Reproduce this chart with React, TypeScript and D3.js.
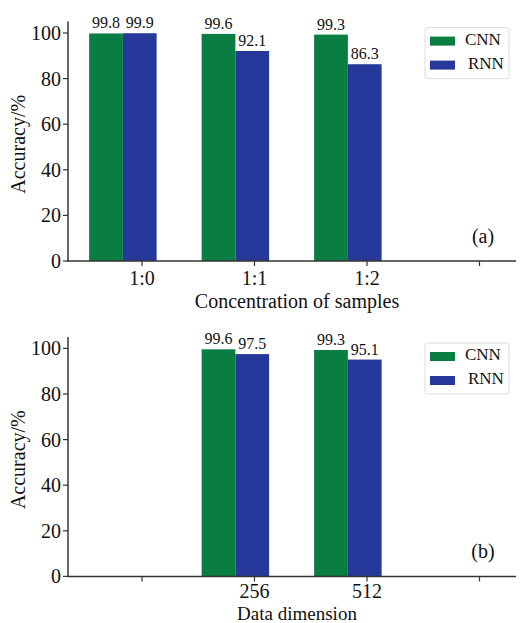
import React, { useEffect } from 'react';
import * as d3 from 'd3';

// panel (a)
const concLabels = ['1:0', '1:1', '1:2', ''];
const concCNN = [99.8, 99.6, 99.3];
const concRNN = [99.9, 92.1, 86.3];

// panel (b)
const dimLabels = ['', '256', '512', ''];
const dimCNN = [null, 99.6, 99.3];
const dimRNN = [null, 97.5, 95.1];

const yTicks = [0, 20, 40, 60, 80, 100];
const seriesNames = ['CNN', 'RNN'];
const colors = ['#0a7d43', '#26399a'];

const W = 530;
const H = 623;
const FONT = "'Liberation Serif', 'Times New Roman', Times, serif";

const x = d3.scaleLinear().domain([0, 3]).range([142, 479.5]);
const barW = x(0.3) - x(0);
const offsets = [-0.32, -0.02];

type PanelProps = {
  top: number;
  labels: string[];
  cnn: (number | null)[];
  rnn: (number | null)[];
  xTitle: string;
  tickGap: number;
  titleGap: number;
  titleSize: number;
  tag: string;
};

const Panel = ({ top, labels, cnn, rnn, xTitle, tickGap, titleGap, titleSize, tag }: PanelProps) => {
  const y0 = top + 228 * 1.05;
  const y = d3.scaleLinear().domain([0, 105]).range([y0, top]);
  const axisX0 = 68;
  const axisX1 = 516;
  const series = [cnn, rnn];

  return (
    <g style={{ fontFamily: FONT }} fill="#111">
      {series.map((vals, s) =>
        vals.map((v, i) => {
          if (v == null) return null;
          const cx = x(i + offsets[s]);
          return (
            <g key={`${s}-${i}`}>
              <rect
                x={cx - barW / 2}
                y={y(v)}
                width={barW}
                height={y(0) - y(v)}
                fill={colors[s]}
              />
              <text x={cx} y={y(v) - 5} textAnchor="middle" fontSize={16}>
                {v.toFixed(1)}
              </text>
            </g>
          );
        })
      )}

      {/* axes */}
      <line x1={axisX0} x2={axisX0} y1={y(0)} y2={y(105)} stroke="#333" strokeWidth={1.5} />
      <line x1={axisX0 - 1} x2={axisX1} y1={y(0)} y2={y(0)} stroke="#333" strokeWidth={1.5} />

      {yTicks.map((t) => (
        <g key={t}>
          <line x1={axisX0 - 5} x2={axisX0} y1={y(t)} y2={y(t)} stroke="#333" strokeWidth={1.2} />
          <text x={axisX0 - 7} y={y(t)} dy="0.35em" textAnchor="end" fontSize={20}>
            {t}
          </text>
        </g>
      ))}

      {labels.map((l, i) => (
        <g key={i}>
          <line x1={x(i)} x2={x(i)} y1={y(0)} y2={y(0) + 5} stroke="#333" strokeWidth={1.2} />
          <text x={x(i)} y={y(0) + tickGap} textAnchor="middle" fontSize={20}>
            {l}
          </text>
        </g>
      ))}

      <text x={297} y={y(0) + titleGap} textAnchor="middle" fontSize={titleSize}>
        {xTitle}
      </text>

      <text
        transform={`translate(25,${(y(0) + y(105)) / 2 + 3}) rotate(-90)`}
        textAnchor="middle"
        fontSize={20}
      >
        Accuracy/%
      </text>

      <text x={483} y={y(0) - 18} textAnchor="middle" fontSize={20}>
        {tag}
      </text>

      {/* legend */}
      <g transform={`translate(425,${top + 6})`}>
        <rect x={0} y={0} width={84} height={51} rx={3} fill="#fff" stroke="#ddd" strokeWidth={1} />
        {seriesNames.map((n, k) => (
          <g key={n} transform={`translate(0,${9 + k * 24})`}>
            <rect x={5} y={0} width={25} height={9} fill={colors[k]} />
            <text x={40 + k * 3} y={8} fontSize={17}>
              {n}
            </text>
          </g>
        ))}
      </g>
    </g>
  );
};

export default function App() {
  useEffect(() => {
    document.body.style.margin = '0';
    document.body.style.overflow = 'hidden';
  }, []);

  return (
    <div style={{ position: 'fixed', left: 0, top: 0, width: W, height: H }}>
      <svg width={W} height={H} style={{ display: 'block', background: '#fff' }}>
        <Panel top={21.6} labels={concLabels} cnn={concCNN} rnn={concRNN} xTitle="Concentration of samples" tickGap={24} titleGap={47} titleSize={20} tag="(a)" />
        <Panel top={337} labels={dimLabels} cnn={dimCNN} rnn={dimRNN} xTitle="Data dimension" tickGap={22} titleGap={43.5} titleSize={19} tag="(b)" />
      </svg>
    </div>
  );
}
